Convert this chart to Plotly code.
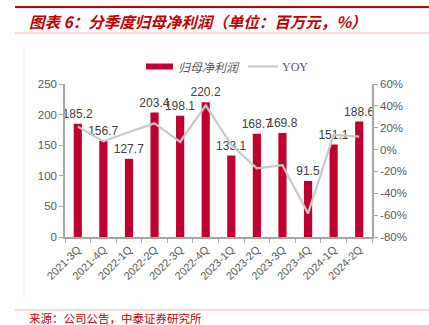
import plotly.graph_objects as go

# Quarterly attributable net profit (million CNY) and its YoY change (%)
quarters = ["2021-3Q", "2021-4Q", "2022-1Q", "2022-2Q", "2022-3Q", "2022-4Q",
            "2023-1Q", "2023-2Q", "2023-3Q", "2023-4Q", "2024-1Q", "2024-2Q"]
net_profit = [185.2, 156.7, 127.7, 203.4, 198.1, 220.2,
              133.1, 168.7, 169.8, 91.5, 151.1, 188.6]
yoy = [21.0, 7.5, 16.0, 24.0, 7.0, 40.5, 4.2, -17.1, -14.3, -58.4, 13.5, 11.8]

left_ticks = [0, 50, 100, 150, 200, 250]
right_ticks = [-80, -60, -40, -20, 0, 20, 40, 60]

W, H = 429, 325
ML, MR, MT, MB = 65, 57, 84, 88
PW, PH = W - ML - MR, H - MT - MB

BAR_RED = "#C0002F"
LINE_GRAY = "#C9C9C9"
AXIS_GRAY = "#A6A6A6"
TEXT_GRAY = "#595959"
TITLE_RED = "#C00000"
CJK = "Noto Sans CJK SC"
LATIN = "Liberation Sans, Arial, sans-serif"


def px(x):
    return (x - ML) / PW


def py(y):
    return (H - MB - y) / PH


fig = go.Figure()
fig.add_trace(go.Bar(
    x=quarters, y=net_profit, name="归母净利润",
    marker=dict(color=BAR_RED, line=dict(width=0)),
    width=0.32,
    text=[f"{v:.1f}" for v in net_profit], textposition="outside",
    constraintext="none",
    textfont=dict(family=LATIN, size=12, color="#404040"),
    cliponaxis=False, showlegend=False,
))
fig.add_trace(go.Scatter(
    x=quarters, y=yoy, name="YOY", yaxis="y2", mode="lines",
    line=dict(color=LINE_GRAY, width=2.2), showlegend=False,
))

shapes = [
    # header rules
    dict(type="line", xref="paper", yref="paper", x0=px(15), x1=px(429),
         y0=py(7), y1=py(7), line=dict(color=TITLE_RED, width=2)),
    dict(type="line", xref="paper", yref="paper", x0=px(15), x1=px(429),
         y0=py(33), y1=py(33), line=dict(color="#F2AFAF", width=1)),
    # footer rule
    dict(type="line", xref="paper", yref="paper", x0=px(15), x1=px(429),
         y0=py(310), y1=py(310), line=dict(color="#F2AFAF", width=1)),
    # faint chart frame
    dict(type="line", xref="paper", yref="paper", x0=px(24), x1=px(24),
         y0=py(48), y1=py(297), line=dict(color="#F3F3F3", width=1)),
    # legend keys
    dict(type="rect", xref="paper", yref="paper", x0=px(146), x1=px(173),
         y0=py(69.5), y1=py(63.5), fillcolor=BAR_RED, line=dict(width=0)),
    dict(type="line", xref="paper", yref="paper", x0=px(248), x1=px(278),
         y0=py(66.5), y1=py(66.5), line=dict(color=LINE_GRAY, width=2.2)),
]

annotations = [
    dict(text="图表 6：分季度归母净利润（单位：百万元，%）", xref="paper", yref="paper",
         x=px(27), y=py(21), xanchor="left", yanchor="middle", showarrow=False,
         font=dict(family=CJK, size=15.5, color=TITLE_RED, weight="bold", style="italic")),
    dict(text="来源：公司公告，中泰证券研究所", xref="paper", yref="paper",
         x=px(27), y=py(318), xanchor="left", yanchor="middle", showarrow=False,
         font=dict(family=CJK, size=11.5, color=TITLE_RED)),
    dict(text="归母净利润", xref="paper", yref="paper",
         x=px(176), y=py(66.5), xanchor="left", yanchor="middle", showarrow=False,
         font=dict(family=CJK, size=12, color=TEXT_GRAY, style="italic")),
    dict(text="YOY", xref="paper", yref="paper",
         x=px(280), y=py(66.5), xanchor="left", yanchor="middle", showarrow=False,
         font=dict(family="Liberation Serif, Times New Roman, serif", size=12, color=TEXT_GRAY)),
]

fig.update_layout(
    width=W, height=H,
    margin=dict(l=ML, r=MR, t=MT, b=MB, pad=0),
    paper_bgcolor="white", plot_bgcolor="white",
    showlegend=False,
    shapes=shapes, annotations=annotations,
    xaxis=dict(
        type="category", tickangle=-45, showgrid=False,
        showline=True, linecolor=AXIS_GRAY, linewidth=1.5,
        ticks="outside", tickson="boundaries", ticklen=4, tickcolor=AXIS_GRAY,
        tickfont=dict(family=LATIN, size=11, color=TEXT_GRAY),
        range=[-0.5, len(quarters) - 0.5],
    ),
    yaxis=dict(
        range=[0, 250], tickvals=left_ticks, showgrid=False, zeroline=False,
        showline=True, linecolor=AXIS_GRAY, linewidth=1.5,
        ticks="outside", ticklen=4, tickcolor=AXIS_GRAY,
        tickfont=dict(family=LATIN, size=11.5, color=TEXT_GRAY),
    ),
    yaxis2=dict(
        overlaying="y", side="right", range=[-80, 60], tickvals=right_ticks,
        ticktext=[f"{v}%" for v in right_ticks],
        showgrid=False, zeroline=False,
        showline=True, linecolor=AXIS_GRAY, linewidth=1.5,
        ticks="outside", ticklen=4, tickcolor=AXIS_GRAY,
        tickfont=dict(family=LATIN, size=11.5, color=TEXT_GRAY),
    ),
)

fig.write_html("out.html")
